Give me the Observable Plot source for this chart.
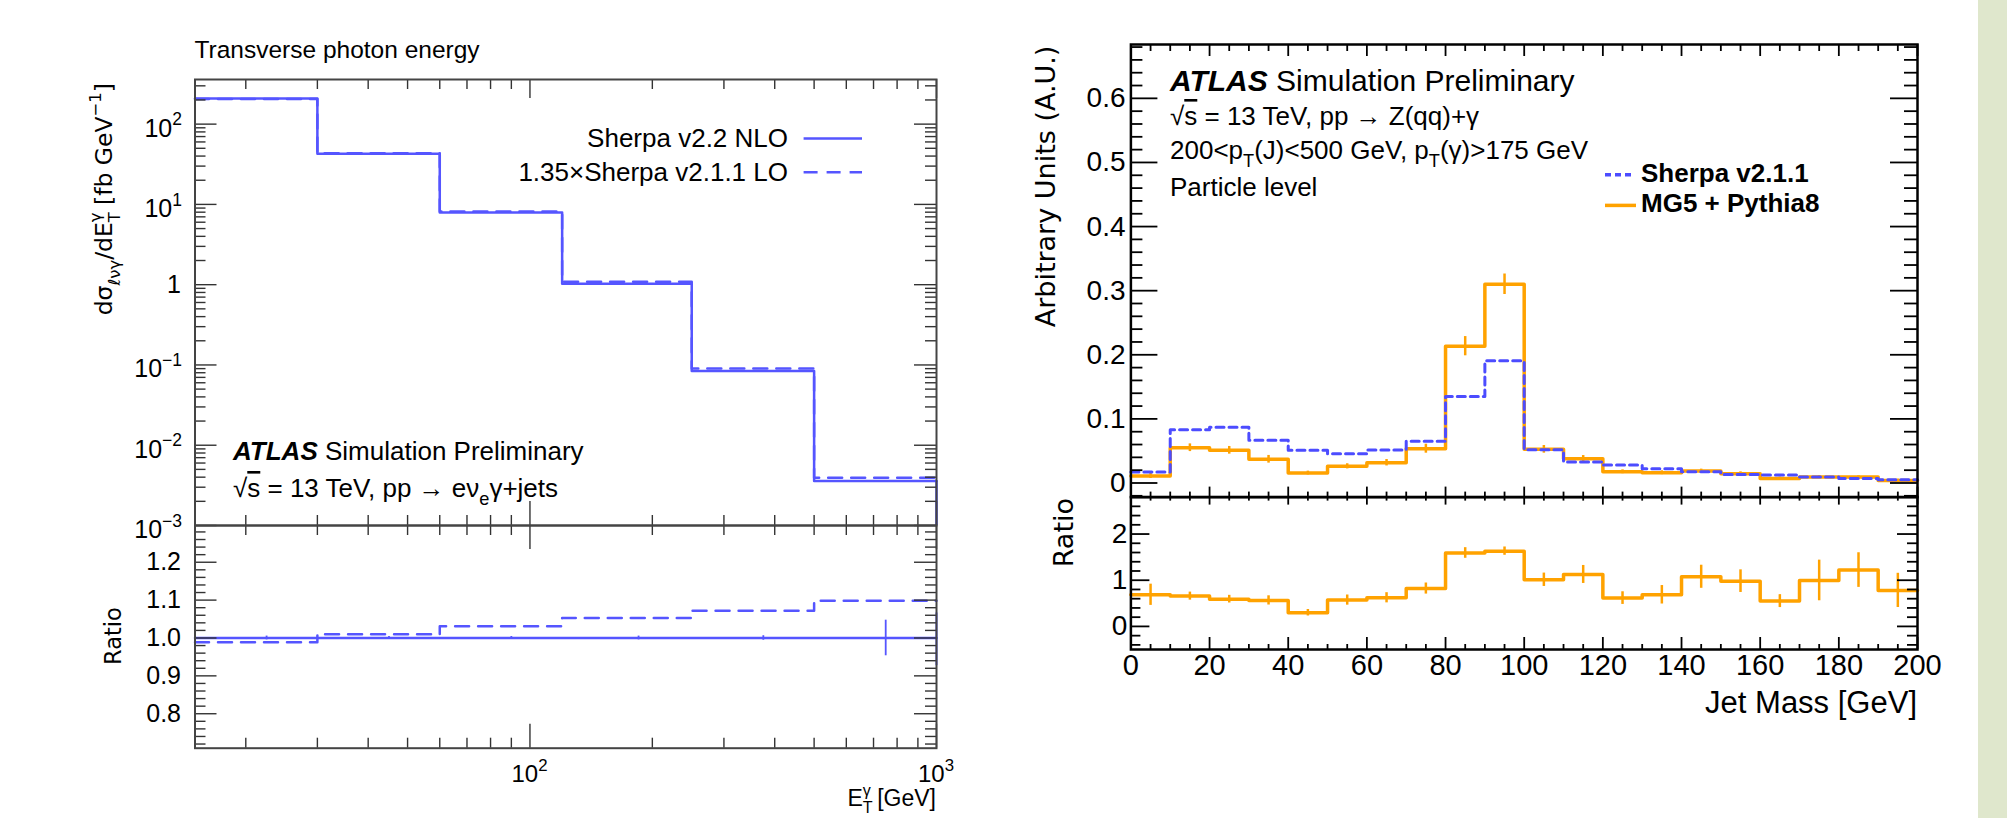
<!DOCTYPE html>
<html><head><meta charset="utf-8">
<script src="https://cdn.jsdelivr.net/npm/d3@7"></script>
<script src="https://cdn.jsdelivr.net/npm/@observablehq/plot@0.6"></script>
<style>
html,body{margin:0;padding:0;background:#fff;width:2007px;height:818px;overflow:hidden;}
#wrap{position:relative;width:2007px;height:818px;background:#fff;}
#strip{position:absolute;left:1978px;top:0;width:29px;height:818px;background:#dfe7cc;}
</style></head><body>
<div id="wrap"><div id="strip"></div></div>
<script>
// ---------------- DATA ----------------
// Left panel: transverse photon energy
const etBinEdges = [15, 30, 60, 120, 250, 500, 1000];
const etSherpaNLO = [208, 42.8, 7.9, 1.03, 0.084, 0.00358];
const etSherpaLO = [206, 43.3, 8.15, 1.085, 0.090, 0.00393];
const etRatioLO = [0.989, 1.010, 1.031, 1.053, 1.072, 1.098];
const etRatioNLO = [1, 1, 1, 1, 1, 1];
const etRatioNLOErr = [0.005, 0.004, 0.004, 0.005, 0.006, 0.047];
const etRatioEdgeDrop = [0.927, 1.066];
const etYMajorTicks = [1e-3, 1e-2, 1e-1, 1, 10, 100];
const etXMajorTicks = [100, 1000];
const etXMinorTicks = [20, 30, 40, 50, 60, 70, 80, 90, 200, 300, 400, 500, 600, 700, 800, 900];
const etRatioTicks = [0.8, 0.9, 1.0, 1.1, 1.2];

// Right panel: jet mass
const jmBinEdges = [0, 10, 20, 30, 40, 50, 60, 70, 80, 90, 100, 110, 120, 130, 140, 150, 160, 170, 180, 190, 200];
const jmMG5 = [0.011, 0.055, 0.051, 0.037, 0.0155, 0.026, 0.0316, 0.0535, 0.2134, 0.310, 0.0525, 0.0378, 0.0175, 0.016, 0.0186, 0.0144, 0.0072, 0.0092, 0.0092, 0.004];
const jmMG5Err = [0.004, 0.006, 0.006, 0.006, 0.003, 0.004, 0.005, 0.007, 0.015, 0.016, 0.006, 0.005, 0.003, 0.003, 0.003, 0.003, 0.002, 0.002, 0.002, 0.002];
const jmSherpa = [0.017, 0.083, 0.087, 0.0665, 0.051, 0.0457, 0.0514, 0.065, 0.135, 0.1905, 0.052, 0.0327, 0.028, 0.0222, 0.0175, 0.0134, 0.0123, 0.0092, 0.0072, 0.005];
const jmRatio = [0.685, 0.656, 0.59, 0.563, 0.296, 0.57, 0.62, 0.82, 1.59, 1.63, 1.01, 1.125, 0.613, 0.685, 1.075, 0.98, 0.548, 0.995, 1.22, 0.78];
const jmRatioErr = [0.23, 0.087, 0.083, 0.1, 0.07, 0.11, 0.11, 0.12, 0.115, 0.09, 0.145, 0.195, 0.137, 0.2, 0.25, 0.245, 0.14, 0.44, 0.375, 0.37];
const jmYTicks = [0, 0.1, 0.2, 0.3, 0.4, 0.5, 0.6];
const jmRatioYTicks = [0, 1, 2];
const jmXTicks = [0, 20, 40, 60, 80, 100, 120, 140, 160, 180, 200];

// ---------------- STYLE ----------------
const W = 2007, H = 818;
const BLUE_L = "#5555ff", BLUE_R = "#4c4cff", ORANGE = "#ffa200";
const FONT = "Liberation Sans, Arial, Helvetica, sans-serif";
const FONT_T = "DejaVu Sans, Verdana, sans-serif";
const wrap = document.getElementById("wrap");

function frameBox(l, t, r, b) {
  return {width: W, height: H, marginLeft: l, marginTop: t, marginRight: W - r, marginBottom: H - b};
}
function place(p) {
  p.style.position = "absolute"; p.style.left = "0px"; p.style.top = "0px";
  p.style.overflow = "visible"; p.style.maxWidth = "none"; p.style.background = "transparent";
  wrap.appendChild(p); return p;
}
function stepPts(edges, vals) {
  const pts = vals.map((v, i) => ({x: edges[i], y: v}));
  pts.push({x: edges[edges.length - 1], y: vals[vals.length - 1]});
  return pts;
}
function centers(edges) { return edges.slice(0, -1).map((e, i) => (e + edges[i + 1]) / 2); }
// inward ROOT-style ticks
function yT(vals, len, fw, side, stroke, sw) {
  const o = {y: d => d, stroke, strokeWidth: sw};
  o[side === "left" ? "insetRight" : "insetLeft"] = fw - len;
  return Plot.tickY(vals, o);
}
function xT(vals, len, fh, side, stroke, sw) {
  const o = {x: d => d, stroke, strokeWidth: sw};
  o[side === "top" ? "insetBottom" : "insetTop"] = fh - len;
  return Plot.tickX(vals, o);
}
function minorsLinear(lo, hi, step, majorStep) {
  const out = [];
  for (let i = Math.ceil(lo / step - 1e-9); i * step <= hi + 1e-9; i++) {
    const v = +(i * step).toFixed(6);
    if (Math.abs(v / majorStep - Math.round(v / majorStep)) > 1e-6) out.push(v);
  }
  return out;
}

// ---------------- LEFT PANEL ----------------
const L = {l: 194.5, r: 936, t: 79, m: 525, b: 747.7};
const LW = L.r - L.l;
const etYDomain = [1e-3, 359.7];
const etYMinor = [];
for (let k = -3; k <= 2; k++) for (let m = 2; m <= 9; m++) { const v = m * Math.pow(10, k); if (v < etYDomain[1]) etYMinor.push(v); }
const etRatioMinor = minorsLinear(0.72, 1.29, 0.02, 0.1);
const LC = "#333";

const pLM = place(Plot.plot({
  ...frameBox(L.l, L.t, L.r, L.m),
  x: {type: "log", domain: [15, 1000], axis: null},
  y: {type: "log", domain: etYDomain, axis: null},
  marks: [
    Plot.line(stepPts(etBinEdges, etSherpaNLO), {x: "x", y: "y", curve: "step-after", stroke: BLUE_L, strokeWidth: 2.5}),
    Plot.line(stepPts(etBinEdges, etSherpaLO), {x: "x", y: "y", curve: "step-after", stroke: BLUE_L, strokeWidth: 2.5, strokeDasharray: "14,9"}),
    Plot.ruleX([{x: etBinEdges[6], y1: etSherpaNLO[5], y2: etYDomain[0]}], {x: "x", y1: "y1", y2: "y2", stroke: BLUE_L, strokeWidth: 2.5}),
    yT(etYMajorTicks, 22, LW, "left", LC, 1.4), yT(etYMinor, 11, LW, "left", LC, 1.4),
    yT(etYMajorTicks, 22, LW, "right", LC, 1.4), yT(etYMinor, 11, LW, "right", LC, 1.4),
    xT(etXMajorTicks, 19, L.m - L.t, "top", LC, 1.4), xT(etXMinorTicks, 10, L.m - L.t, "top", LC, 1.4),
    xT(etXMajorTicks, 24, L.m - L.t, "bottom", LC, 1.4), xT(etXMinorTicks, 10, L.m - L.t, "bottom", LC, 1.4),
    Plot.frame({stroke: "#444", strokeWidth: 2})
  ]
}));

const etC = centers(etBinEdges);
const pLR = place(Plot.plot({
  ...frameBox(L.l, L.m, L.r, L.b),
  x: {type: "log", domain: [15, 1000], axis: null},
  y: {domain: [0.709, 1.297], axis: null},
  marks: [
    Plot.line(stepPts(etBinEdges, etRatioNLO), {x: "x", y: "y", curve: "step-after", stroke: BLUE_L, strokeWidth: 2.5}),
    Plot.line(stepPts(etBinEdges, etRatioLO), {x: "x", y: "y", curve: "step-after", stroke: BLUE_L, strokeWidth: 2.5, strokeDasharray: "14,9"}),
    Plot.ruleX(etC.map((c, i) => ({x: c, y1: etRatioNLO[i] - etRatioNLOErr[i], y2: etRatioNLO[i] + etRatioNLOErr[i]})), {x: "x", y1: "y1", y2: "y2", stroke: BLUE_L, strokeWidth: 1.8}),
    Plot.ruleX([{x: etBinEdges[6], y1: etRatioEdgeDrop[0], y2: etRatioEdgeDrop[1]}], {x: "x", y1: "y1", y2: "y2", stroke: BLUE_L, strokeWidth: 2}),
    yT(etRatioTicks, 22, LW, "left", LC, 1.4), yT(etRatioMinor, 11, LW, "left", LC, 1.4),
    yT(etRatioTicks, 22, LW, "right", LC, 1.4), yT(etRatioMinor, 11, LW, "right", LC, 1.4),
    xT(etXMajorTicks, 24, L.b - L.m, "top", LC, 1.4), xT(etXMinorTicks, 10, L.b - L.m, "top", LC, 1.4),
    xT(etXMajorTicks, 24, L.b - L.m, "bottom", LC, 1.4), xT(etXMinorTicks, 10, L.b - L.m, "bottom", LC, 1.4),
    Plot.axisY(etRatioTicks, {anchor: "left", tickSize: 0, tickPadding: 14, fontSize: 25, fontFamily: FONT, fill: "#000", tickFormat: d3.format(".1f"), label: null}),
    Plot.frame({stroke: "#444", strokeWidth: 2})
  ]
}));

// ---------------- RIGHT PANEL ----------------
const R = {l: 1130.4, r: 1917, t: 44, m: 496.6, b: 649};
const RW = R.r - R.l;
const jmXMinor = minorsLinear(0, 200, 5, 20);
const jmYMinor = minorsLinear(-0.02, 0.68, 0.02, 0.1);
const jmRYMinor = minorsLinear(-0.4, 2.8, 0.2, 1);
const jmC = centers(jmBinEdges);

const pRM = place(Plot.plot({
  ...frameBox(R.l, R.t, R.r, R.m),
  x: {domain: [0, 200], axis: null},
  y: {domain: [-0.022, 0.684], axis: null},
  marks: [
    Plot.line(stepPts(jmBinEdges, jmMG5), {x: "x", y: "y", curve: "step-after", stroke: ORANGE, strokeWidth: 3.5}),
    Plot.ruleX(jmC.map((c, i) => ({x: c, y1: jmMG5[i] - jmMG5Err[i], y2: jmMG5[i] + jmMG5Err[i]})), {x: "x", y1: "y1", y2: "y2", stroke: ORANGE, strokeWidth: 2.5}),
    Plot.line(stepPts(jmBinEdges, jmSherpa), {x: "x", y: "y", curve: "step-after", stroke: BLUE_R, strokeWidth: 3, strokeDasharray: "8,5"}),
    yT(jmYTicks, 27, RW, "left", "#000", 1.8), yT(jmYMinor, 12, RW, "left", "#000", 1.8),
    yT(jmYTicks, 27, RW, "right", "#000", 1.8), yT(jmYMinor, 13, RW, "right", "#000", 1.8),
    xT(jmXTicks, 12, R.m - R.t, "top", "#000", 1.8), xT(jmXMinor, 7, R.m - R.t, "top", "#000", 1.8),
    xT(jmXTicks, 10, R.m - R.t, "bottom", "#000", 1.8), xT(jmXMinor, 5, R.m - R.t, "bottom", "#000", 1.8),
    Plot.axisY(jmYTicks, {anchor: "left", tickSize: 0, tickPadding: 5.4, fontSize: 28, fontFamily: FONT, fill: "#000", tickFormat: d => d === 0 ? "0" : d3.format(".1f")(d), label: null}),
    Plot.frame({stroke: "#000", strokeWidth: 2.5})
  ]
}));

const pRR = place(Plot.plot({
  ...frameBox(R.l, R.m, R.r, R.b),
  x: {domain: [0, 200], axis: null},
  y: {domain: [-0.5, 2.8], axis: null},
  marks: [
    Plot.line(stepPts(jmBinEdges, jmRatio), {x: "x", y: "y", curve: "step-after", stroke: ORANGE, strokeWidth: 3.5}),
    Plot.ruleX(jmC.map((c, i) => ({x: c, y1: jmRatio[i] - jmRatioErr[i], y2: jmRatio[i] + jmRatioErr[i]})), {x: "x", y1: "y1", y2: "y2", stroke: ORANGE, strokeWidth: 2.5}),
    yT(jmRatioYTicks, 19, RW, "left", "#000", 1.8), yT(jmRYMinor, 10, RW, "left", "#000", 1.8),
    yT(jmRatioYTicks, 20, RW, "right", "#000", 1.8), yT(jmRYMinor, 10, RW, "right", "#000", 1.8),
    xT(jmXTicks, 8, R.b - R.m, "top", "#000", 1.8), xT(jmXMinor, 4, R.b - R.m, "top", "#000", 1.8),
    xT(jmXTicks, 12, R.b - R.m, "bottom", "#000", 1.8), xT(jmXMinor, 5, R.b - R.m, "bottom", "#000", 1.8),
    Plot.axisY(jmRatioYTicks, {anchor: "left", tickSize: 0, tickPadding: 3.5, fontSize: 28, fontFamily: FONT, fill: "#000", label: null}),
    Plot.axisX(jmXTicks, {anchor: "bottom", tickSize: 0, tickPadding: 4.5, fontSize: 29, fontFamily: FONT, fill: "#000", label: null}),
    Plot.frame({stroke: "#000", strokeWidth: 2.5})
  ]
}));

// ---------------- TEXT OVERLAY ----------------
const ov = d3.select(wrap).append("svg")
  .attr("width", W).attr("height", H)
  .style("position", "absolute").style("left", "0px").style("top", "0px").style("overflow", "visible")
  .style("font-family", FONT);

function rich(x, y, parts, o = {}) {
  const size = o.size || 26;
  const supRaise = o.supRaise || 0.45;
  const subDrop = o.subDrop || 0.32;
  const t = ov.append("text").attr("x", x).attr("y", y).attr("font-size", size)
    .attr("text-anchor", o.anchor || "start").attr("fill", "#000").style("white-space", "pre");
  if (o.family) t.attr("font-family", o.family);
  if (o.weight) t.attr("font-weight", o.weight);
  if (o.rotate) t.attr("transform", `rotate(${o.rotate},${x},${y})`);
  let cur = 0;
  for (const [s, k, dx] of parts) {
    let off = 0, fs = size;
    if (k === "sub") { off = subDrop * size; fs = 0.7 * size; }
    if (k === "sup") { off = -supRaise * size; fs = 0.7 * size; }
    const ts = t.append("tspan").attr("dy", off - cur).attr("font-size", fs).text(s);
    if (dx) ts.attr("dx", dx * size);
    if (k === "bi") ts.attr("font-weight", "bold").attr("font-style", "italic");
    if (k === "b") ts.attr("font-weight", "bold");
    if (k === "ol") ts.style("text-decoration", "overline");
    cur = off;
  }
  return t;
}
function legendLine(x1, x2, y, stroke, sw, dash) {
  const l = ov.append("line").attr("x1", x1).attr("x2", x2).attr("y1", y).attr("y2", y)
    .attr("stroke", stroke).attr("stroke-width", sw);
  if (dash) l.attr("stroke-dasharray", dash);
}

// left panel texts
rich(L.l, 58, [["Transverse photon energy", "n"]], {size: 24.5});
rich(788, 147, [["Sherpa v2.2 NLO", "n"]], {anchor: "end"});
legendLine(803.6, 862, 138.5, BLUE_L, 2.5);
rich(788, 181, [["1.35×Sherpa v2.1.1 LO", "n"]], {anchor: "end"});
legendLine(803.6, 862, 172.3, BLUE_L, 2.5, "14,9");
rich(233, 460, [["ATLAS", "bi"], [" Simulation Preliminary", "n"]], {size: 26});
rich(233, 497, [["√", "n"], ["s", "ol"], [" = 13 TeV, pp → eν", "n"], ["e", "sub"], ["γ+jets", "n"]], {size: 26});
rich(112, 83, [["dσ", "n"], ["ℓνγ", "sub"], ["/dE", "n"], ["T", "sub"], ["γ", "sup", -0.43], [" [fb GeV", "n"], ["−1", "sup"], ["]", "n"]], {size: 23.5, anchor: "end", rotate: -90, family: FONT_T});
rich(121, 636, [["Ratio", "n"]], {size: 22.5, anchor: "middle", rotate: -90, family: FONT_T});
rich(936, 806, [["E", "n"], ["T", "sub"], ["γ", "sup", -0.43], [" [GeV]", "n"]], {size: 23, anchor: "end", supRaise: 0.42, subDrop: 0.3});

const syL = pLM.scale("y"), sxL = pLM.scale("x");
for (const v of etYMajorTicks) {
  const y = syL.apply(v);
  const e = Math.round(Math.log10(v));
  if (e === 0) rich(181, y + 8.5, [["1", "n"]], {size: 25, anchor: "end"});
  else rich(182, y + 13, [["10", "n"], [e < 0 ? "−" + (-e) : String(e), "sup"]], {size: 25, anchor: "end"});
}
for (const v of etXMajorTicks) {
  const x = sxL.apply(v);
  rich(x, 782, [["10", "n"], [String(Math.round(Math.log10(v))), "sup"]], {size: 24, anchor: "middle"});
}

// right panel texts
rich(1170, 91, [["ATLAS", "bi"], [" Simulation Preliminary", "n"]], {size: 30});
rich(1170, 125, [["√", "n"], ["s", "ol"], [" = 13 TeV, pp → Z(qq)+γ", "n"]], {size: 26});
rich(1170, 159, [["200<p", "n"], ["T", "sub"], ["(J)<500 GeV, p", "n"], ["T", "sub"], ["(γ)>175 GeV", "n"]], {size: 26});
rich(1170, 196, [["Particle level", "n"]], {size: 26});
legendLine(1605, 1633, 174.7, BLUE_R, 3.5, "6,4");
rich(1641, 182, [["Sherpa v2.1.1", "b"]], {size: 26});
legendLine(1605, 1636, 205.4, ORANGE, 3.5);
rich(1641, 212, [["MG5 + Pythia8", "b"]], {size: 26});
rich(1055, 45.6, [["Arbitrary Units (A.U.)", "n"]], {size: 27, anchor: "end", rotate: -90, family: FONT_T});
rich(1073, 498, [["Ratio", "n"]], {size: 27, anchor: "end", rotate: -90, family: FONT_T});
rich(1917, 713, [["Jet Mass [GeV]", "n"]], {size: 31, anchor: "end"});
</script>
</body></html>
